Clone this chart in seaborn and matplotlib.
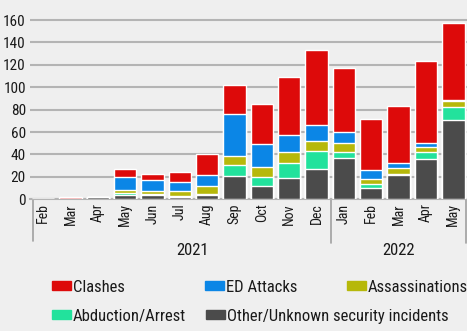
import numpy as np
import pandas as pd
import seaborn as sns
import matplotlib.pyplot as plt

months = ["Feb", "Mar", "Apr", "May", "Jun", "Jul", "Aug", "Sep", "Oct", "Nov", "Dec",
          "Jan", "Feb", "Mar", "Apr", "May"]
years = ["2021", "2022"]
other = [0, 0, 2, 4, 4, 2, 4, 21, 12, 19, 27, 37, 10, 22, 36, 71]
abduction = [0, 0, 0, 2, 1, 1, 1, 10, 8, 13, 16, 5, 4, 1, 6, 11]
assassinations = [0, 0, 0, 2, 2, 4, 7, 8, 9, 10, 9, 8, 4, 5, 5, 6]
ed_attacks = [0, 0, 0, 12, 10, 8, 10, 37, 20, 15, 14, 10, 8, 4, 3, 1]
clashes = [0, 2, 0, 7, 6, 9, 18, 26, 36, 52, 67, 57, 46, 51, 73, 68]

series = ["Other/Unknown security incidents", "Abduction/Arrest", "Assassinations",
          "ED Attacks", "Clashes"]
colors = {"Clashes": "#dd0a0a", "ED Attacks": "#0b86e6", "Assassinations": "#b6b80a",
          "Abduction/Arrest": "#22e29c", "Other/Unknown security incidents": "#4b4b4b"}

bg = "#efefef"
sns.set_style("white")
plt.rcParams["font.family"] = ["Roboto Condensed", "DejaVu Sans"]
plt.rcParams["text.color"] = "#1a1a1a"

df = pd.DataFrame({"pos": range(len(months)), "Other/Unknown security incidents": other,
                   "Abduction/Arrest": abduction, "Assassinations": assassinations,
                   "ED Attacks": ed_attacks, "Clashes": clashes})
cum = df[series].cumsum(axis=1)

fig, ax = plt.subplots(figsize=(4.67, 3.31), dpi=100)
fig.patch.set_facecolor(bg)
ax.set_facecolor(bg)

# draw cumulative totals from top layer down so each layer covers the previous one
for s in reversed(series):
    sns.barplot(x=df["pos"], y=cum[s], color=colors[s], width=0.82, saturation=1,
                ax=ax, zorder=3, native_scale=True)

ax.set_ylim(0, 165)
ax.set_yticks(range(0, 161, 20))
ax.set_xlim(-0.48, 15.5)
ax.set_xticks(range(len(months)))
ax.set_xticklabels(months, rotation=90, fontsize=10)
ax.tick_params(axis="x", length=0, pad=3, colors="#1a1a1a")
ax.tick_params(axis="y", length=0, labelsize=11, pad=3, colors="#1a1a1a")
ax.yaxis.grid(True, color="#b4b4b4", linewidth=1.5, zorder=0)
ax.set_axisbelow(True)
for sp in ["left", "right", "top"]:
    ax.spines[sp].set_visible(False)
ax.spines["bottom"].set_color("#b4b4b4")
ax.spines["bottom"].set_linewidth(1.5)
ax.spines["bottom"].set_zorder(2)
ax.set_xlabel("")
ax.set_ylabel("")

# year groups with separators
trans = ax.get_xaxis_transform()
for xs, y1 in [(-0.37, -0.225), (10.51, -0.235), (15.48, -0.235)]:
    ax.plot([xs, xs], [0, y1], color="#a0a0a0", lw=1.2, transform=trans, clip_on=False)
ax.text(5.45, -0.275, years[0], transform=trans, ha="center", va="center", fontsize=12)
ax.text(13.0, -0.275, years[1], transform=trans, ha="center", va="center", fontsize=12)

# legend entries, placed like the reference (two rows, uneven columns)
W, H = 467, 331
entries = [("Clashes", 52, 287), ("ED Attacks", 205, 287), ("Assassinations", 347, 287),
           ("Abduction/Arrest", 52, 316), ("Other/Unknown security incidents", 206, 316)]
for name, px, py in entries:
    h = plt.Rectangle((0, 0), 1, 1, color=colors[name])
    fig.legend([h], [name], loc="center left", bbox_to_anchor=(px / W, 1 - py / H),
               frameon=False, fontsize=12, handlelength=1.15, handleheight=0.45,
               handletextpad=0.1, borderpad=0, borderaxespad=0)

plt.subplots_adjust(left=30 / W, right=1.0, top=1 - 14.4 / H, bottom=1 - 199.3 / H)
plt.savefig("out.png", dpi=100, facecolor=bg)
